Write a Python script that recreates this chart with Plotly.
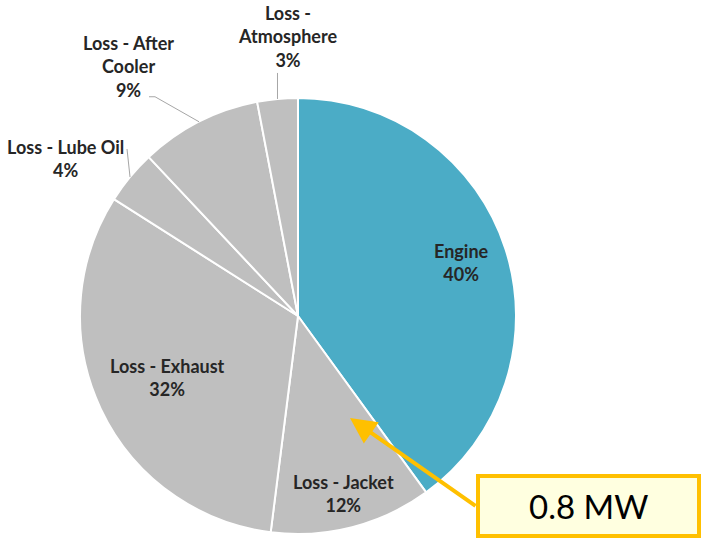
import math
import plotly.graph_objects as go

labels = ["Engine", "Loss - Jacket", "Loss - Exhaust", "Loss - Lube Oil",
          "Loss - After Cooler", "Loss - Atmosphere"]
display = ["Engine", "Loss - Jacket", "Loss - Exhaust", "Loss - Lube Oil",
           "Loss - After<br>Cooler", "Loss -<br>Atmosphere"]
values = [40, 12, 32, 4, 9, 3]
colors = ["#4BACC6", "#BFBFBF", "#BFBFBF", "#BFBFBF", "#BFBFBF", "#BFBFBF"]
callout_text = "0.8 MW"

W, H = 702, 539
CX, CY, R = 298, 316, 218


def px(x):
    return x / W


def py(y):
    return 1 - y / H


fig = go.Figure(go.Pie(
    labels=labels, values=values, sort=False, direction="clockwise", rotation=0,
    marker=dict(colors=colors, line=dict(color="white", width=2)),
    textinfo="none", hoverinfo="label+percent", showlegend=False,
    domain=dict(x=[px(CX - R), px(CX + R)], y=[py(CY + R), py(CY - R)]),
))

placement = {
    0: ("in", 0.79),
    1: ("in", 0.84),
    2: ("in", 0.66),
    3: ("out", None),
    4: ("out", None),
    5: ("out", None),
}
total = sum(values)
cum = 0
annotations = []
shapes = []
font = dict(family="Lato, Carlito, sans-serif", size=18, color="#262626")
for i, v in enumerate(values):
    mid = (cum + v / 2) / total * 2 * math.pi
    cum += v
    pct = f"{round(v / total * 100)}%"
    text = f"<b>{display[i]}<br>{pct}</b>"
    sx, sy = math.sin(mid), -math.cos(mid)
    kind, rf = placement[i]
    if kind == "in":
        x, y = CX + sx * R * rf, CY + sy * R * rf
        annotations.append(dict(x=px(x), y=py(y), xref="paper", yref="paper",
                                text=text, showarrow=False, font=font,
                                xanchor="center", yanchor="middle"))
    else:
        ex, ey = CX + sx * R, CY + sy * R
        if i == 3:
            lx, ly = ex - 3, ey - 28
            tx, ty = 65, 158
        elif i == 4:
            lx, ly = ex - 44, ey - 25
            tx, ty = 128, 66
        else:
            lx, ly = ex, ey - 26
            tx, ty = 287, 37
        shapes.append(dict(type="line", xref="paper", yref="paper",
                           x0=px(ex), y0=py(ey), x1=px(lx), y1=py(ly),
                           line=dict(color="#A6A6A6", width=1)))
        if i == 4:
            shapes.append(dict(type="line", xref="paper", yref="paper",
                               x0=px(lx), y0=py(ly), x1=px(lx - 6), y1=py(ly),
                               line=dict(color="#A6A6A6", width=1)))
        annotations.append(dict(x=px(tx), y=py(ty), xref="paper", yref="paper",
                                text=text, showarrow=False, font=font,
                                xanchor="center", yanchor="middle"))

# callout box
bx0, by0, bx1, by1 = 478, 476, 699, 536
shapes.append(dict(type="rect", xref="paper", yref="paper",
                   x0=px(bx0), y0=py(by1), x1=px(bx1), y1=py(by0),
                   line=dict(color="#FFC000", width=4), fillcolor="#FFFFE0",
                   layer="above"))
annotations.append(dict(x=px((bx0 + bx1) / 2), y=py((by0 + by1) / 2),
                        xref="paper", yref="paper", text=callout_text,
                        showarrow=False,
                        font=dict(family="Lato, Carlito, sans-serif", size=33,
                                  color="black"),
                        xanchor="center", yanchor="middle"))
# arrow
annotations.append(dict(x=px(350), y=py(418), xref="paper", yref="paper",
                        ax=477 - 350, ay=507 - 418, text="", showarrow=True,
                        arrowhead=2, arrowsize=1.3, arrowwidth=4,
                        arrowcolor="#FFC000", standoff=0))

fig.update_layout(width=W, height=H, margin=dict(l=0, r=0, t=0, b=0),
                  paper_bgcolor="white", plot_bgcolor="white",
                  annotations=annotations, shapes=shapes)
fig.write_html("out.html")
